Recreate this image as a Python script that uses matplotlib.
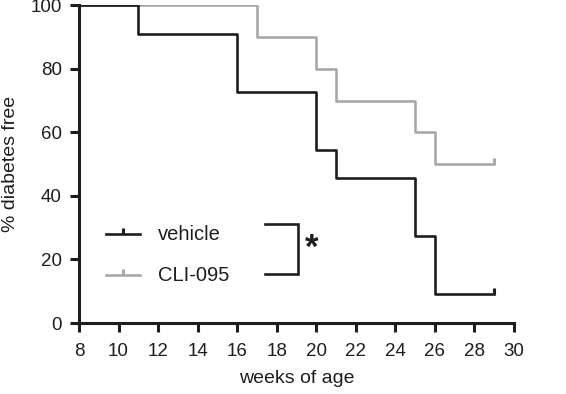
import matplotlib.pyplot as plt
import numpy as np

# Kaplan-Meier style curves (weeks, % diabetes free)
weeks_vehicle = [8, 11, 16, 20, 21, 25, 26, 29]
free_vehicle = [100, 90.9, 72.7, 54.5, 45.5, 27.3, 9.1, 9.1]
weeks_cli = [8, 17, 20, 21, 25, 26, 29]
free_cli = [100, 90, 80, 70, 60, 50, 50]

labels = ['vehicle', 'CLI-095']
colors = ['#1e1e1e', '#a8a8a8']
x_ticks = np.arange(8, 31, 2)
y_ticks = np.arange(0, 101, 20)


def main():
    plt.rcParams['font.family'] = ['Liberation Sans', 'DejaVu Sans']
    fig = plt.figure(figsize=(5.66, 3.94), dpi=100)
    ax = fig.add_axes([0.1396, 0.180, 0.7686, 0.807])

    lw = 1.9
    censor = [(0, 0), (0, 1)]
    ax.step(weeks_cli, free_cli, where='post', color=colors[1], lw=lw, zorder=2)
    ax.plot(weeks_cli[-1], free_cli[-1], marker=censor, ms=9, mew=2.2,
            color=colors[1], zorder=2)
    ax.step(weeks_vehicle, free_vehicle, where='post', color=colors[0], lw=lw, zorder=3)
    ax.plot(weeks_vehicle[-1], free_vehicle[-1], marker=censor, ms=9, mew=2.2,
            color=colors[0], zorder=3)

    ax.set_xlim(8, 30)
    ax.set_ylim(0, 100)
    ax.set_xticks(x_ticks)
    ax.set_yticks(y_ticks)
    for s in ['top', 'right']:
        ax.spines[s].set_visible(False)
    for s in ['left', 'bottom']:
        ax.spines[s].set_linewidth(2.2)
        ax.spines[s].set_color('#1e1e1e')
    ax.tick_params(direction='out', length=6.5, width=2.2, color='#1e1e1e',
                   labelsize=13.5, labelcolor='#1e1e1e')
    ax.tick_params(axis='x', pad=8)
    ax.tick_params(axis='y', pad=6)
    ax.set_xlabel('weeks of age', fontsize=14, color='#1e1e1e', labelpad=7)
    ax.set_ylabel('% diabetes free', fontsize=14, color='#1e1e1e', labelpad=8)

    # hand-made legend
    tr = ax.transAxes
    for lab, col, yy in zip(labels, colors, [0.280, 0.151]):
        ax.plot([0.062, 0.140], [yy, yy], color=col, lw=lw, transform=tr,
                clip_on=False)
        ax.plot([0.101], [yy], marker=censor, ms=9, mew=2.2, color=col,
                transform=tr, clip_on=False)
        ax.text(0.182, yy, lab, transform=tr, fontsize=14.5, color='#1e1e1e',
                va='center', ha='left')

    # significance bracket
    ax.plot([0.428, 0.503, 0.503, 0.428], [0.311, 0.311, 0.154, 0.154],
            color='#1e1e1e', lw=lw, transform=tr, solid_joinstyle='miter')
    ax.text(0.520, 0.235, '*', transform=tr, fontsize=25, fontweight='bold',
            color='#1e1e1e', va='center', ha='left')

    plt.savefig('out.png', dpi=100)


if __name__ == "__main__":
    main()
